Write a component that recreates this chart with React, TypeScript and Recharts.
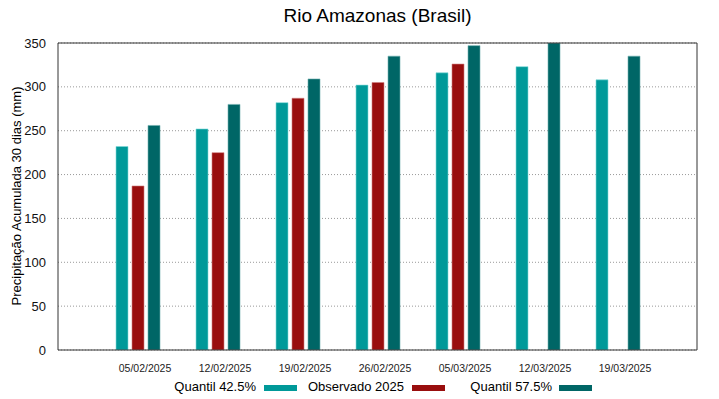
import { BarChart, Bar, XAxis, YAxis, CartesianGrid } from 'recharts';

// Semanas (categorias do eixo X)
const weeks = ['05/02/2025', '12/02/2025', '19/02/2025', '26/02/2025', '05/03/2025', '12/03/2025', '19/03/2025'];
const quantil425 = [232, 252, 282, 302, 316, 323, 308];
const observado2025 = [187, 225, 287, 305, 326, null, null];
const quantil575 = [256, 280, 309, 335, 347, 350, 335];
const yTicks = [0, 50, 100, 150, 200, 250, 300, 350];

const data = weeks.map((week, i) => ({
    week,
    q425: quantil425[i],
    obs: observado2025[i],
    q575: quantil575[i],
}));

const FONT = '"Liberation Sans", Arial, sans-serif';

const legendItems = [
    { name: 'Quantil 42.5%', color: '#009999', textRight: 256, swatch: 264 },
    { name: 'Observado 2025', color: '#990e0e', textRight: 404, swatch: 412 },
    { name: 'Quantil 57.5%', color: '#006666', textRight: 552, swatch: 559 },
];

export default function App() {
    return (
        <div
            style={{
                position: 'absolute',
                left: 0,
                top: 0,
                width: 719,
                height: 399,
                background: '#fff',
                fontFamily: FONT,
                color: '#000',
            }}
        >
            {/* Title */}
            <div
                style={{
                    position: 'absolute',
                    left: 58,
                    width: 639,
                    top: 4,
                    textAlign: 'center',
                    fontSize: 19,
                    lineHeight: '24px',
                }}
            >
                Rio Amazonas (Brasil)
            </div>

            {/* Y axis label */}
            <div
                style={{
                    position: 'absolute',
                    left: 17 - 150,
                    top: 196 - 9,
                    width: 300,
                    height: 18,
                    lineHeight: '18px',
                    textAlign: 'center',
                    fontSize: 13,
                    transform: 'rotate(-90deg)',
                }}
            >
                Precipitação Acumulada 30 dias (mm)
            </div>

            <BarChart
                width={719}
                height={399}
                data={data}
                margin={{ top: 43, right: 22, bottom: 0, left: 0 }}
                barGap={4}
                barSize={12}
            >
                <CartesianGrid
                    vertical={false}
                    stroke="#999"
                    strokeDasharray="1 2"
                />
                <XAxis
                    dataKey="week"
                    height={49}
                    padding={{ left: 40, right: 39 }}
                    axisLine={{ stroke: '#333' }}
                    tickLine={false}
                    tick={{ fontSize: 10.5, fill: '#222', fontFamily: FONT, dx: 7 }}
                    tickMargin={9}
                    interval={0}
                />
                {/* inward ticks on bottom */}
                <XAxis
                    xAxisId="bt"
                    dataKey="week"
                    orientation="bottom"
                    mirror
                    padding={{ left: 40, right: 39 }}
                    axisLine={false}
                    tick={false}
                    tickSize={5}
                    tickLine={{ stroke: '#333' }}
                    interval={0}
                />
                {/* top frame */}
                <XAxis
                    xAxisId="top"
                    dataKey="week"
                    orientation="top"
                    mirror
                    padding={{ left: 40, right: 39 }}
                    axisLine={{ stroke: '#333' }}
                    tick={false}
                    tickSize={5}
                    tickLine={{ stroke: '#333' }}
                    interval={0}
                />
                <YAxis
                    width={58}
                    domain={[0, 350]}
                    ticks={yTicks}
                    allowDataOverflow
                    axisLine={{ stroke: '#333' }}
                    tickLine={false}
                    tickMargin={6}
                    tick={{ fontSize: 13, fill: '#111', fontFamily: FONT }}
                />
                {/* inward ticks on left */}
                <YAxis
                    yAxisId="lt"
                    orientation="left"
                    mirror
                    domain={[0, 350]}
                    ticks={yTicks}
                    axisLine={false}
                    tick={false}
                    tickSize={5}
                    tickLine={{ stroke: '#333' }}
                />
                {/* right frame */}
                <YAxis
                    yAxisId="right"
                    orientation="right"
                    mirror
                    domain={[0, 350]}
                    ticks={yTicks}
                    axisLine={{ stroke: '#333' }}
                    tick={false}
                    tickSize={5}
                    tickLine={{ stroke: '#333' }}
                />
                <Bar dataKey="q425" fill="#009999" stroke="#7fdada" strokeWidth={0.6} isAnimationActive={false} />
                <Bar dataKey="obs" fill="#990e0e" stroke="#d08080" strokeWidth={0.6} isAnimationActive={false} />
                <Bar dataKey="q575" fill="#006666" stroke="#6fb0b0" strokeWidth={0.6} isAnimationActive={false} />
            </BarChart>

            {/* Legend */}
            {legendItems.map((item) => (
                <div key={item.name}>
                    <div
                        style={{
                            position: 'absolute',
                            left: item.textRight - 200,
                            width: 200,
                            top: 379,
                            textAlign: 'right',
                            fontSize: 13,
                            lineHeight: '16px',
                            whiteSpace: 'nowrap',
                        }}
                    >
                        {item.name}
                    </div>
                    <div
                        style={{
                            position: 'absolute',
                            left: item.swatch,
                            top: 385,
                            width: 33,
                            height: 6,
                            background: item.color,
                        }}
                    />
                </div>
            ))}
        </div>
    );
}
